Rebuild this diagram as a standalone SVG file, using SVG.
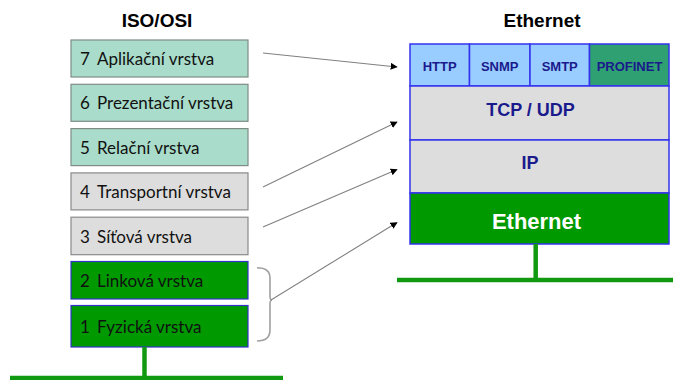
<svg xmlns="http://www.w3.org/2000/svg" width="673" height="380" viewBox="0 0 673 380">
  <defs>
    <marker id="arrow" viewBox="0 0 10 10" refX="9" refY="5" markerWidth="7" markerHeight="7" markerUnits="userSpaceOnUse" orient="auto">
      <path d="M0,0 L10,5 L0,10 z" fill="#000"/>
    </marker>
    <style>
      .title { font-family: "Liberation Sans", Arial, sans-serif; font-weight: bold; font-size: 19px; fill: #000; text-anchor: middle; }
      .osi { stroke-width: 1.2; }
      .mint { fill: #a9dcca; stroke: #7f8c86; }
      .grey { fill: #dddddd; stroke: #8a8a8a; }
      .green { fill: #009900; stroke: #3333cc; }
      .osi-text { font-family: Lato, "Open Sans", sans-serif; font-size: 17px; fill: #111; }
      .stack { stroke: #3333ee; stroke-width: 1.5; }
      .proto { fill: #99ccff; }
      .profinet { fill: #2fa072; }
      .layer { fill: #dddddd; }
      .eth { fill: #009900; }
      .proto-text { font-family: "Liberation Sans", Arial, sans-serif; font-weight: bold; font-size: 13px; fill: #1a1a8c; text-anchor: middle; }
      .layer-text { font-family: "Liberation Sans", Arial, sans-serif; font-weight: bold; font-size: 18px; fill: #1a1a8c; text-anchor: middle; }
      .eth-text { font-family: "Liberation Sans", Arial, sans-serif; font-weight: bold; font-size: 22px; fill: #ffffff; text-anchor: middle; }
      .bus { stroke: #119911; stroke-width: 4.5; fill: none; }
      .link { stroke: #808080; stroke-width: 1.1; fill: none; }
      .brace { stroke: #a0a0a0; stroke-width: 1.6; fill: none; }
    </style>
  </defs>

  <!-- column headings -->
  <text class="title" x="157" y="27">ISO/OSI</text>
  <text class="title" x="542" y="27">Ethernet</text>

  <!-- ISO/OSI reference model layers -->
  <g id="osi-7">
    <rect class="osi mint" x="71" y="40" width="177" height="37"/>
    <text class="osi-text" y="65"><tspan x="80">7</tspan><tspan x="97">Aplikační vrstva</tspan></text>
  </g>
  <g id="osi-6">
    <rect class="osi mint" x="71" y="84.3" width="177" height="37"/>
    <text class="osi-text" y="109.3"><tspan x="80">6</tspan><tspan x="97">Prezentační vrstva</tspan></text>
  </g>
  <g id="osi-5">
    <rect class="osi mint" x="71" y="128.6" width="177" height="37"/>
    <text class="osi-text" y="153.6"><tspan x="80">5</tspan><tspan x="97">Relační vrstva</tspan></text>
  </g>
  <g id="osi-4">
    <rect class="osi grey" x="71" y="172.9" width="177" height="37"/>
    <text class="osi-text" y="197.9"><tspan x="80">4</tspan><tspan x="97">Transportní vrstva</tspan></text>
  </g>
  <g id="osi-3">
    <rect class="osi grey" x="71" y="217.2" width="177" height="37.5"/>
    <text class="osi-text" y="242.5"><tspan x="80">3</tspan><tspan x="97">Síťová vrstva</tspan></text>
  </g>
  <g id="osi-2">
    <rect class="osi green" x="71" y="261.5" width="177" height="37.5"/>
    <text class="osi-text" y="286.5"><tspan x="80">2</tspan><tspan x="97">Linková vrstva</tspan></text>
  </g>
  <g id="osi-1">
    <rect class="osi green" x="71" y="305.5" width="177" height="41.5"/>
    <text class="osi-text" y="332.5"><tspan x="80">1</tspan><tspan x="97">Fyzická vrstva</tspan></text>
  </g>

  <!-- bus attached below the physical layer -->
  <g id="osi-bus">
    <line class="bus" x1="144.5" y1="347" x2="144.5" y2="378"/>
    <line class="bus" x1="10" y1="378" x2="283" y2="378"/>
  </g>

  <!-- Ethernet protocol stack -->
  <g id="eth-http">
    <rect class="stack proto" x="410" y="44" width="59.5" height="42"/>
    <text class="proto-text" x="439.7" y="70.5">HTTP</text>
  </g>
  <g id="eth-snmp">
    <rect class="stack proto" x="469.5" y="44" width="60.5" height="42"/>
    <text class="proto-text" x="499.7" y="70.5">SNMP</text>
  </g>
  <g id="eth-smtp">
    <rect class="stack proto" x="530" y="44" width="59.5" height="42"/>
    <text class="proto-text" x="559.7" y="70.5">SMTP</text>
  </g>
  <g id="eth-profinet">
    <rect class="stack profinet" x="589.5" y="44" width="79.5" height="42"/>
    <text class="proto-text" x="629.5" y="70.5">PROFINET</text>
  </g>
  <g id="eth-tcpudp">
    <rect class="stack layer" x="410" y="86" width="259" height="54"/>
    <text class="layer-text" x="530.5" y="116">TCP / UDP</text>
  </g>
  <g id="eth-ip">
    <rect class="stack layer" x="410" y="140" width="259" height="53"/>
    <text class="layer-text" x="530" y="169">IP</text>
  </g>
  <g id="eth-ethernet">
    <rect class="stack eth" x="410" y="193" width="259" height="51"/>
    <text class="eth-text" x="536.5" y="229">Ethernet</text>
  </g>

  <!-- bus attached below the Ethernet layer -->
  <g id="eth-bus">
    <line class="bus" x1="535.7" y1="244" x2="535.7" y2="280"/>
    <line class="bus" x1="397" y1="280" x2="673" y2="280"/>
  </g>

  <!-- bracket grouping layers 1 and 2 -->
  <g id="brace">
    <path class="brace" d="M257,267.7 Q270,267.7 270,278 L270,296 Q270,300 272,300 Q270,300 270,304 L270,330 Q270,341 257,341"/>
  </g>

  <!-- layer mapping connectors -->
  <g id="connectors">
    <line class="link" x1="263" y1="53" x2="397" y2="67" marker-end="url(#arrow)"/>
    <line class="link" x1="263" y1="187" x2="397" y2="122" marker-end="url(#arrow)"/>
    <line class="link" x1="263" y1="227" x2="397" y2="169.5" marker-end="url(#arrow)"/>
    <line class="link" x1="271" y1="300" x2="397" y2="222.5" marker-end="url(#arrow)"/>
  </g>
</svg>
